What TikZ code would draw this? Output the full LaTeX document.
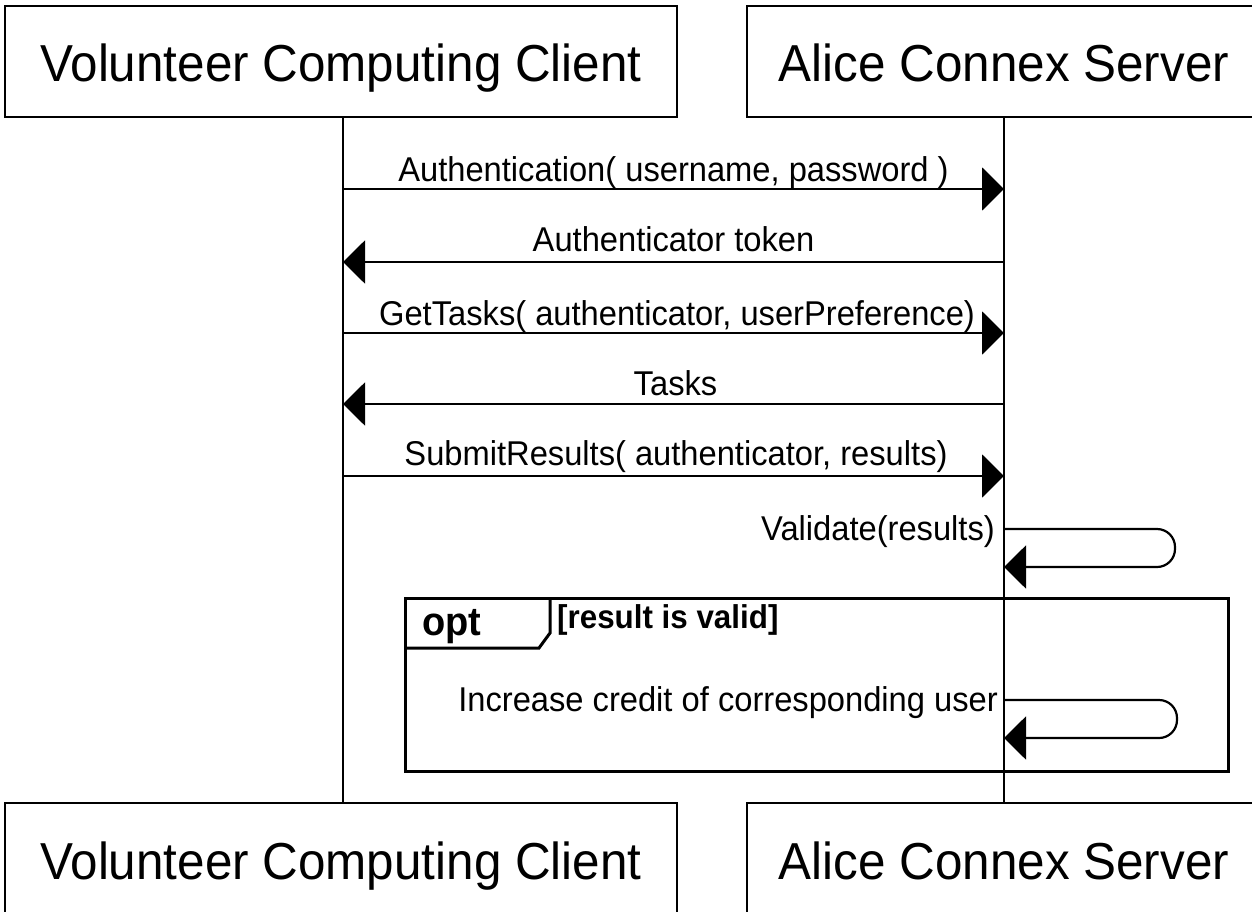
\documentclass[tikz,border=0pt]{standalone}
\usepackage{fontspec}
\setmainfont{Liberation Sans}[FakeStretch=0.95]
\usetikzlibrary{arrows.meta}
\begin{document}
\begin{tikzpicture}[x=1pt,y=-1pt,
  actorbox/.style={draw,line width=2pt,rectangle,minimum width=672pt,minimum height=111pt,inner sep=0pt,text height=41pt,text depth=0pt,font=\fontsize{52}{60}\selectfont},
  lifeline/.style={line width=1.6pt},
  msg/.style={line width=2.2pt,-{Triangle[length=22pt,width=43pt]}},
  loopmsg/.style={line width=2.2pt,rounded corners=18pt,-{Triangle[length=22pt,width=43pt]}},
  msglabel/.style={anchor=base,inner sep=0pt,font=\fontsize{34.4}{40}\selectfont},
  selflabel/.style={anchor=base east,inner sep=0pt,font=\fontsize{34.4}{40}\selectfont},
  frame/.style={line width=3pt},
  optlabel/.style={anchor=base west,inner sep=0pt,font=\bfseries\fontsize{40}{46}\selectfont},
  guardlabel/.style={anchor=base west,inner sep=0pt,font=\bfseries\fontsize{33}{40}\selectfont}]
\useasboundingbox (0,0) rectangle (1252,912);
\clip (0,0) rectangle (1252,912);
\fill[white] (0,0) rectangle (1252,912);

% actor boxes
\node[actorbox] (ctop) at (341,61.5) {Volunteer Computing Client};
\node[actorbox,minimum width=514pt] (stop) at (1004,61.5) {Alice Connex Server};
\node[actorbox] (cbot) at (341,858.5) {Volunteer Computing Client};
\node[actorbox,minimum width=514pt] (sbot) at (1004,858.5) {Alice Connex Server};

% lifelines
\coordinate (cl0) at (343,117);
\coordinate (cl9) at (343,803);
\coordinate (sl0) at (1004,117);
\coordinate (sl9) at (1004,803);
\draw[lifeline] (cl0) -- (cl9);
\draw[lifeline] (sl0) -- (sl9);

% message endpoints
\coordinate (c1) at (343,189);  \coordinate (s1) at (1004,189);
\coordinate (c2) at (343,262);  \coordinate (s2) at (1004,262);
\coordinate (c3) at (343,333);  \coordinate (s3) at (1004,333);
\coordinate (c4) at (343,404);  \coordinate (s4) at (1004,404);
\coordinate (c5) at (343,476);  \coordinate (s5) at (1004,476);

\draw[msg] (c1) -- (s1);
\node[msglabel] (m1) at (673.5,181.5) {Authentication( username, password )};
\draw[msg] (s2) -- (c2);
\node[msglabel] (m2) at (673.5,251.5) {Authenticator token};
\draw[msg] (c3) -- (s3);
\node[msglabel] (m3) at (677,325) {GetTasks( authenticator, userPreference)};
\draw[msg] (s4) -- (c4);
\node[msglabel] (m4) at (675.5,395) {Tasks};
\draw[msg] (c5) -- (s5);
\node[msglabel] (m5) at (676,465) {SubmitResults( authenticator, results)};

% self message: Validate
\coordinate (v0) at (1004,529);
\coordinate (v1) at (1004,567);
\draw[loopmsg] (v0) -- (1175,529) -- (1175,567) -- (v1);
\node[selflabel] (vl) at (995,540) {Validate(results)};

% opt frame
\coordinate (f0) at (405,598);
\coordinate (f1) at (1228,771);
\draw[frame] (f0) rectangle (f1);
\draw[frame] (405,648) -- (539,648) -- (550,633) -- (550,598);
\node[optlabel] (opt) at (422,635) {opt};
\node[guardlabel] (guard) at (557,628) {[result is valid]};

% self message: Increase credit
\coordinate (i0) at (1004,700);
\coordinate (i1) at (1004,738);
\draw[loopmsg] (i0) -- (1177,700) -- (1177,738) -- (i1);
\node[selflabel] (il) at (998,711) {Increase credit of corresponding user};
\end{tikzpicture}
\end{document}
